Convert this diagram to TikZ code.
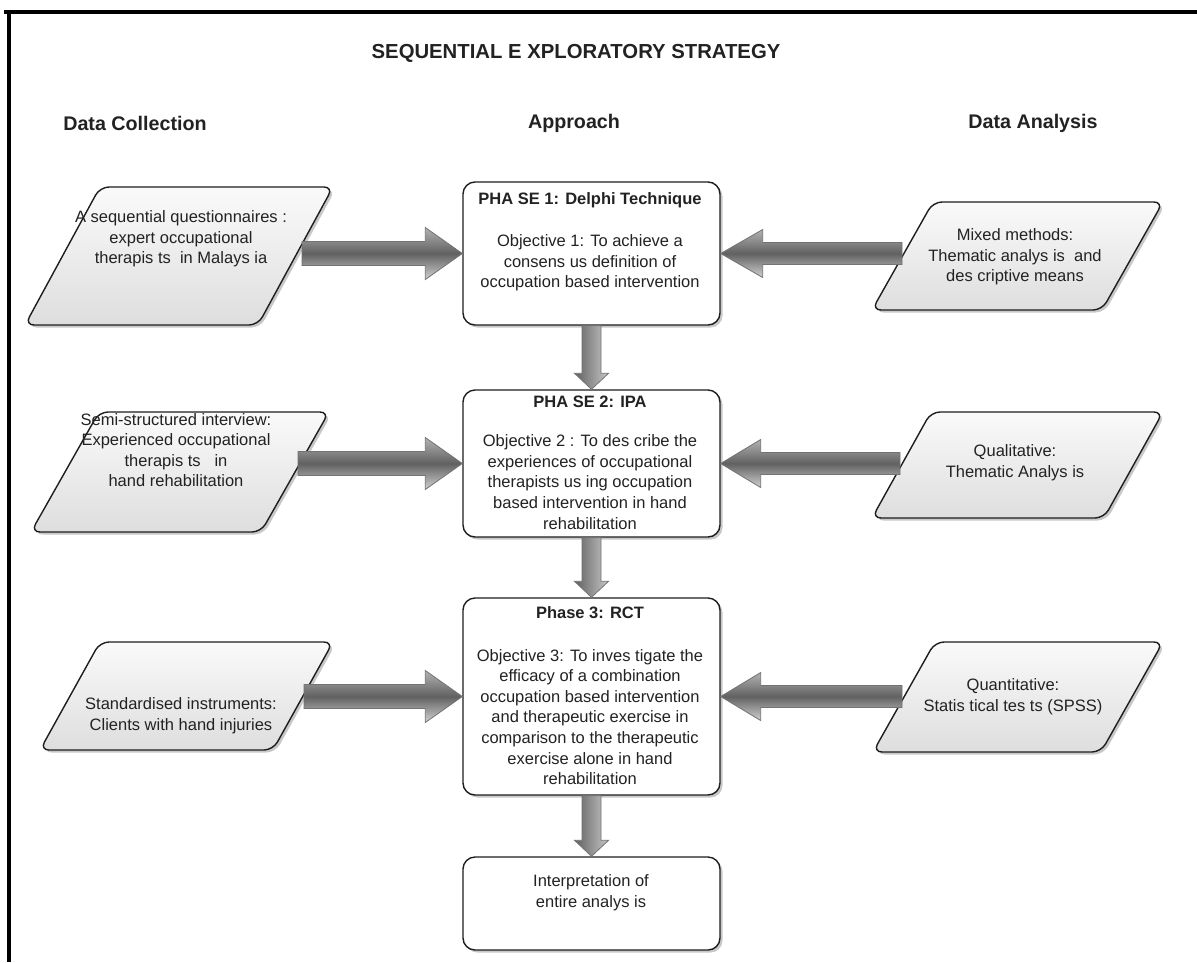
\documentclass[tikz,border=0pt]{standalone}
\usepackage{fontspec}
\setmainfont{Liberation Sans}
\usetikzlibrary{calc,shadows}
\definecolor{ink}{HTML}{222222}
\definecolor{edge}{HTML}{1E1E1E}
\newcommand{\hfatarrow}[5]{%
  \path[fatarrowh] let \p1=(#1), \p2=(#2) in
   ({\x1},{\y2+#3}) -- ({\x2-(#5)},{\y2+#3}) -- ({\x2-(#5)},{\y2+#4}) -- ({\x2},{\y2})
   -- ({\x2-(#5)},{\y2-#4}) -- ({\x2-(#5)},{\y2-#3}) -- ({\x1},{\y2-#3}) -- cycle;}
\newcommand{\vfatarrow}[5]{%
  \path[fatarrowv] let \p1=(#1), \p2=(#2) in
   ({\x2-#3},{\y1}) -- ({\x2-#3},{\y2+#5}) -- ({\x2-#4},{\y2+#5}) -- ({\x2},{\y2})
   -- ({\x2+#4},{\y2+#5}) -- ({\x2+#3},{\y2+#5}) -- ({\x2+#3},{\y1}) -- cycle;}
\begin{document}
\begin{tikzpicture}[x=1pt,y=-1pt,
  shad/.style={drop shadow={shadow xshift=2.5pt,shadow yshift=-2.5pt,opacity=0.3,fill=black!70}},
  box/.style={draw=edge,line width=1.4pt,rounded corners=12pt,fill=white,shad,inner sep=0pt},
  para/.style={draw=edge,line width=1.4pt,rounded corners=9pt,top color=black!2,bottom color=black!13,shad},
  txt/.style={align=center,font=\fontsize{16.5}{20.6}\selectfont,text=ink,inner sep=0pt},
  ttl/.style={align=center,font=\fontsize{16.5}{20.6}\selectfont\bfseries,text=ink,inner sep=0pt},
  head/.style={font=\fontsize{19.7}{24}\selectfont\bfseries,text=ink,inner sep=0pt},
  fatarrowh/.style={draw=black!55,line width=0.8pt,top color=black!30,bottom color=black!18,middle color=black!62},
  fatarrowv/.style={draw=black!55,line width=0.8pt,left color=black!62,right color=black!22,middle color=black!42}]
\useasboundingbox (0,0) rectangle (1197,962);
\fill[white] (0,0) rectangle (1197,962);
% frame
\draw[line width=4pt,black] (4,12) -- (1197,12);
\draw[line width=4pt,black] (9,10) -- (9,962);

% title and headings
\node[head,font=\fontsize{20.3}{24}\selectfont\bfseries] (title) at (576,53) {SEQUENTIAL E XPLORATORY STRATEGY};
\node[head] (hdc) at (135,123) {Data Collection};
\node[head] (hap) at (574,123) {Approach};
\node[head] (hda) at (1033,123) {Data Analysis};

% approach boxes
\node[box,minimum width=257pt,minimum height=143pt] (b1) at (591.5,253.5) {};
\node[box,minimum width=257pt,minimum height=147pt] (b2) at (591.5,463.5) {};
\node[box,minimum width=257pt,minimum height=197pt] (b3) at (591.5,696.5) {};
\node[box,minimum width=257pt,minimum height=93pt] (b4) at (591.5,903.5) {};

\node[ttl] (b1t) at (590,200) {PHA SE 1: Delphi Technique};
\node[txt] (b1x) at (590,263) {Objective 1: To achieve a\\consens us definition of\\occupation based intervention};
\node[ttl] (b2t) at (590,402) {PHA SE 2: IPA};
\node[txt] (b2x) at (590,482) {Objective 2 : To des cribe the\\experiences of occupational\\therapists us ing occupation\\based intervention in hand\\rehabilitation};
\node[ttl] (b3t) at (590,613) {Phase 3: RCT};
\node[txt] (b3x) at (590,717) {Objective 3: To inves tigate the\\efficacy of a combination\\occupation based intervention\\and therapeutic exercise in\\comparison to the therapeutic\\exercise alone in hand\\rehabilitation};
\node[txt] (b4x) at (591,893) {Interpretation of\\entire analys is};

% data collection parallelograms
\path[para] (100,187) -- (333,187) -- (258,325) -- (25,325) -- cycle;
\path[para] (99,412) -- (329,412) -- (261,532) -- (31,532) -- cycle;
\path[para] (100,642) -- (333,642) -- (273,750) -- (40,750) -- cycle;
\node[txt] (dc1) at (181,239) {A sequential questionnaires :\\expert occupational\\therapis ts \ in Malays ia};
\node[txt] (dc2) at (176,450) {Semi-structured interview:\\Experienced occupational\\therapis ts \ \ in\\hand rehabilitation};
\node[txt] (dc3) at (181,716) {Standardised instruments:\\Clients with hand injuries};

% data analysis parallelograms
\path[para] (933,202) -- (1163,202) -- (1102,310) -- (872,310) -- cycle;
\path[para] (931,412) -- (1163,412) -- (1104,518) -- (872,518) -- cycle;
\path[para] (935,642) -- (1163,642) -- (1101,752) -- (873,752) -- cycle;
\node[txt] (da1) at (1015,257) {Mixed methods:\\Thematic analys is \ and\\des criptive means};
\node[txt] (da2) at (1015,463) {Qualitative:\\Thematic Analys is};
\node[txt] (da3) at (1013,697) {Quantitative:\\Statis tical tes ts (SPSS)};

% arrow tails
\coordinate (t1l) at (302,256);
\coordinate (t2l) at (298,463);
\coordinate (t3l) at (304,697);
\coordinate (t1r) at (902,256);
\coordinate (t2r) at (900,463);
\coordinate (t3r) at (902,697);

% horizontal arrows
\hfatarrow{t1l}{b1.west}{12pt}{26pt}{37pt}
\hfatarrow{t2l}{b2.west}{12pt}{26pt}{37pt}
\hfatarrow{t3l}{b3.west}{12pt}{26pt}{37pt}
\hfatarrow{t1r}{b1.east}{11pt}{24pt}{-42pt}
\hfatarrow{t2r}{b2.east}{11pt}{24pt}{-40pt}
\hfatarrow{t3r}{b3.east}{11pt}{24pt}{-40pt}

% vertical arrows
\vfatarrow{b1.south}{b2.north}{9.5pt}{17pt}{16pt}
\vfatarrow{b2.south}{b3.north}{9.5pt}{17pt}{16pt}
\vfatarrow{b3.south}{b4.north}{9.5pt}{17pt}{16pt}
\end{tikzpicture}
\end{document}
